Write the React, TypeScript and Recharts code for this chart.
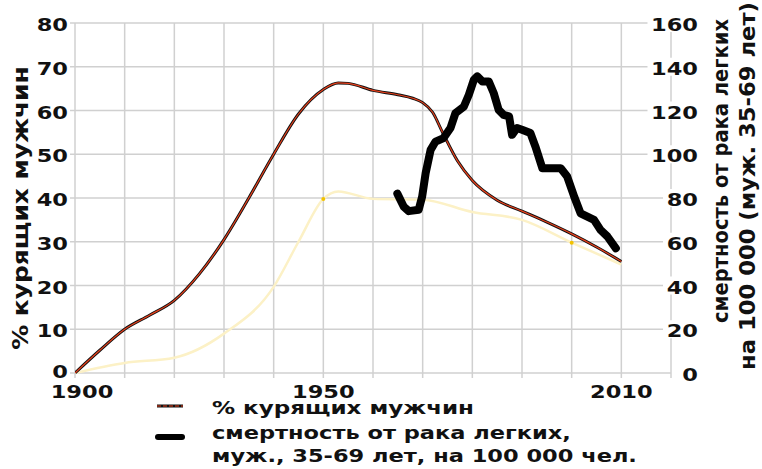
import { LineChart, Line, XAxis, YAxis, CartesianGrid, Legend } from "recharts";

const FONT = "DejaVu Sans";

// % of men who smoke
const smokingYears = [1900, 1905, 1910, 1915, 1920, 1925, 1930, 1935, 1940, 1945, 1950, 1953, 1955, 1960, 1965, 1968, 1970, 1972, 1974, 1977, 1980, 1985, 1990, 1995, 2000, 2005, 2010];
const smokingPct = [0, 5.2, 10, 13.2, 16.6, 22.6, 30.5, 40, 50, 59.2, 64.8, 66.3, 66.2, 64.6, 63.6, 62.8, 61.8, 59.6, 55, 48.5, 44, 39.5, 37, 34.5, 31.8, 28.8, 25.5];

// pale secondary curve (no legend entry)
const paleYears = [1900, 1910, 1920, 1930, 1940, 1945, 1950, 1953, 1960, 1970, 1980, 1990, 2000, 2010];
const palePct = [0, 2.3, 3.5, 9, 19.7, 30, 39.8, 41.5, 39.8, 39.6, 36.8, 35, 29.8, 24.8];
const paleMarked = [1950, 2000];

// lung cancer deaths, men 35-69, per 100 000
const mortalityYears = [1964.9, 1966.2, 1967.2, 1969.2, 1969.9, 1970.6, 1971.6, 1972.6, 1974.2, 1975.6, 1976.6, 1978.3, 1979.3, 1980.3, 1981, 1982, 1983.3, 1984.3, 1985.3, 1986.3, 1987.4, 1988, 1989, 1990, 1991.7, 1992.7, 1994.1, 1997.8, 1999.1, 2000.5, 2001.8, 2004.5, 2005.8, 2007.2, 2008.9];
const mortalityRate = [82, 76, 74, 74.6, 80.7, 91.4, 102, 105.8, 107.4, 112, 118.8, 121.8, 127.2, 134, 135.6, 133.3, 133.3, 128, 120.3, 118, 117.3, 108.9, 112, 111.2, 109.7, 103.5, 93.6, 93.6, 89.8, 80.7, 73, 70, 65.4, 62.4, 57];

const xTicks = [1900, 1910, 1920, 1930, 1940, 1950, 1960, 1970, 1980, 1990, 2000, 2010, 2020];
const xLabels = [1900, 1950, 2010];
const leftTicks = [0, 10, 20, 30, 40, 50, 60, 70, 80];
const rightTicks = [0, 20, 40, 60, 80, 100, 120, 140, 160];

const smokingData = smokingYears.map((year, i) => ({ year, pct: smokingPct[i] }));
const paleData = paleYears.map((year, i) => ({ year, pct: palePct[i] }));
const mortalityData = mortalityYears.map((year, i) => ({ year, rate: mortalityRate[i] }));

const textStyle = { fontFamily: FONT, fontWeight: "bold" as const, fill: "#111" };

const XTick = ({ x, y, payload }: any) => {
  if (!xLabels.includes(payload.value)) return <g />;
  const shift = payload.value === 1900 ? 7 : 0;
  return (
    <g transform={`translate(${x + shift},${y})`}>
      <text x={0} y={0} dy={18} textAnchor="middle" fontSize={18} transform="scale(1.25,1)" {...textStyle}>
        {payload.value}
      </text>
    </g>
  );
};

const LeftTick = ({ x, y, payload }: any) => (
  <g transform={`translate(${x},${y})`}>
    <text x={0} y={0} dy={payload.value === 0 ? 5 : 8} textAnchor="end" fontSize={18} transform="scale(1.25,1)" {...textStyle}>
      {payload.value}
    </text>
  </g>
);

const RightTick = ({ x, y, payload }: any) => {
  const label = String(payload.value);
  const w = label.length * 15.5 + 4;
  return (
    <g transform={`translate(${x + 27},${y})`}>
      <rect x={-w} y={-9} width={w + 2} height={18} fill="#fff" />
      <text x={0} y={0} dy={8} textAnchor="end" fontSize={18} transform="scale(1.25,1)" {...textStyle}>
        {label}
      </text>
    </g>
  );
};

const LeftLabel = () => (
  <text transform="translate(28,208) rotate(-90) scale(1.16,1)" textAnchor="middle" fontSize={21.5} {...textStyle}>
    % курящих мужчин
  </text>
);

const RightLabel = () => (
  <g>
    <text transform="translate(728,171) rotate(-90) scale(0.93,1)" textAnchor="middle" fontSize={21} {...textStyle}>
      смертность от рака легких
    </text>
    <text transform="translate(755,186) rotate(-90) scale(1.08,1)" textAnchor="middle" fontSize={21} {...textStyle}>
      на 100 000 (муж. 35-69 лет)
    </text>
  </g>
);

const PaleDot = (props: any) => {
  const { cx, cy, payload, index } = props;
  if (!paleMarked.includes(payload.year)) return <g key={index} />;
  return <circle key={index} cx={cx} cy={cy} r={2} fill="#f2c200" />;
};

const LegendBox = () => (
  <svg width={500} height={81}>
    <line x1={7} y1={18} x2={33} y2={18} stroke="#111" strokeWidth={3} />
    <line x1={7} y1={18} x2={33} y2={18} stroke="#e8401c" strokeWidth={1.2} strokeDasharray="4 2" />
    <line x1={8} y1={49} x2={32} y2={49} stroke="#000" strokeWidth={6} strokeLinecap="round" />
    <g fontSize={18} {...textStyle}>
      <text transform="translate(62,26) scale(1.28,1)">% курящих мужчин</text>
      <text transform="translate(62,50.5) scale(1.25,1)">смертность от рака легких,</text>
      <text transform="translate(62,74) scale(1.25,1)">муж., 35-69 лет, на 100 000 чел.</text>
    </g>
  </svg>
);

export default function App() {
  return (
    <div style={{ position: "absolute", left: 0, top: 0, background: "#fff" }}>
      <LineChart width={762} height={469} margin={{ top: 23, right: 0, bottom: 0, left: 0 }}>
        <CartesianGrid stroke="#d0d0d0" strokeWidth={1.5} yAxisId="left" />
        <XAxis
          dataKey="year"
          type="number"
          domain={[1900, 2020]}
          ticks={xTicks}
          allowDataOverflow
          height={96}
          axisLine={false}
          tickLine={{ stroke: "#d0d0d0", strokeWidth: 1.5 }}
          tickSize={5}
          tick={<XTick />}
          interval={0}
        />
        <YAxis
          yAxisId="left"
          domain={[0, 80]}
          ticks={leftTicks}
          width={75}
          axisLine={false}
          tickLine={{ stroke: "#d0d0d0", strokeWidth: 1.5 }}
          tickSize={5}
          tick={<LeftTick />}
          interval={0}
          label={LeftLabel}
        />
        <YAxis
          yAxisId="right"
          orientation="right"
          domain={[0, 160]}
          ticks={rightTicks}
          width={91}
          axisLine={false}
          tickLine={false}
          tickSize={0}
          tickMargin={0}
          tick={<RightTick />}
          interval={0}
          label={RightLabel}
        />
        <Legend
          layout="horizontal"
          verticalAlign="middle"
          content={LegendBox}
          wrapperStyle={{ position: "absolute", left: 150, top: 388, width: 500, height: 81 }}
        />
        <Line
          yAxisId="left"
          data={paleData}
          dataKey="pct"
          type="monotone"
          stroke="#fcf1c6"
          strokeWidth={2.5}
          dot={PaleDot}
          activeDot={false}
          isAnimationActive={false}
          legendType="none"
        />
        <Line
          yAxisId="left"
          data={smokingData}
          dataKey="pct"
          type="monotone"
          stroke="#111"
          strokeWidth={3}
          dot={false}
          activeDot={false}
          isAnimationActive={false}
        />
        <Line
          yAxisId="left"
          data={smokingData}
          dataKey="pct"
          type="monotone"
          stroke="#e8401c"
          strokeWidth={1.2}
          dot={false}
          activeDot={false}
          isAnimationActive={false}
        />
        <Line
          yAxisId="right"
          data={mortalityData}
          dataKey="rate"
          type="linear"
          stroke="#000"
          strokeWidth={8}
          strokeLinejoin="round"
          strokeLinecap="round"
          dot={false}
          activeDot={false}
          isAnimationActive={false}
        />
      </LineChart>
    </div>
  );
}
